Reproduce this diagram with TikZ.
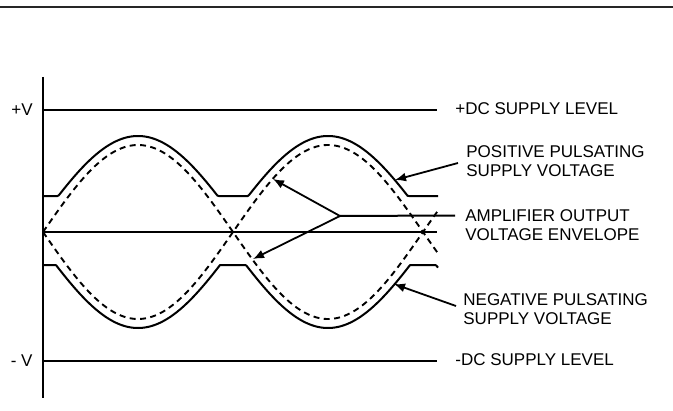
\documentclass[tikz,border=0pt]{standalone}
\usepackage{fontspec}
\setmainfont{Liberation Sans}
\usetikzlibrary{calc,backgrounds,arrows.meta}

\begin{document}
\begin{tikzpicture}[%
        x=0.5pt, y=-0.5pt,%
        show background rectangle,%
        tight background,%
        background rectangle/.style={fill=white}%
    ]
        \tikzset{%
            trace/.style={line width=1pt, line join=round},%
            envelope/.style={line width=0.95pt, dash pattern=on 3pt off 2.2pt},%
            tag/.style={font=\fontsize{8.5}{9.75}\selectfont, inner sep=1pt, align=left, anchor=west},%
            callout/.style={line width=0.9pt, -{Latex[length=5.5pt, width=4.5pt]}}%
        }%
        \useasboundingbox (0,0) rectangle (673,411);%

        % Top rule
        \draw[line width=1.1pt, black!85] (0,7) -- (673,7);%

        %
        % Axes
        %
        \draw[trace] (43,77) -- (43,398);%
        \draw[trace] (43,232) -- (437,232);%

        % Supply levels
        \foreach \lv/\y/\v/\t in {plus/110/+V/+DC SUPPLY LEVEL,minus/361/- V/-DC SUPPLY LEVEL} {%
            \draw[trace] (43,\y) -- (437,\y);%
            \node[tag, anchor=east] (\lv\space v) at (35,\y) {\v};%
            \node[tag] (\lv\space dc) at (453,\y-1) {\t};%
        }%

        %
        % Pulsating supplies
        %
        \draw[trace] plot[domain=43:438, samples=300] (\x, {232-max(36, 80*abs(sin((\x-43)/190*180))+16)});%
        \draw[trace] plot[domain=43:438, samples=300] (\x, {232+max(33, 80*abs(sin((\x-43)/190*180))+16)});%

        % Output envelope
        \draw[envelope] plot[domain=43:438, samples=200] (\x, {232-87*sin((\x-43)/190*180)});%
        \draw[envelope] plot[domain=43:438, samples=200] (\x, {232+87*sin((\x-43)/190*180)});%

        %
        % Annotations
        %
        \node[tag] (pos label) at (464,161) {POSITIVE PULSATING\\SUPPLY VOLTAGE};%
        \node[tag] (amp label) at (463,225) {AMPLIFIER OUTPUT\\VOLTAGE ENVELOPE};%
        \node[tag] (neg label) at (461,309) {NEGATIVE PULSATING\\SUPPLY VOLTAGE};%

        \coordinate (pos tip) at (395,180);%
        \coordinate (neg tip) at (394,284);%
        \coordinate (amp hub) at (340,216);%
        \coordinate (amp up tip) at (273,179);%
        \coordinate (amp down tip) at (253,259);%

        % Positive supply
        \draw[callout] ([xshift=-3pt, yshift=-1pt]pos label.west) -- (pos tip);%

        % Envelope
        \draw[trace] ([xshift=-4pt, yshift=4.75pt]amp label.west) -- (amp hub);%
        \draw[callout] (amp hub) -- (amp up tip);%
        \draw[callout] (amp hub) -- (amp down tip);%

        % Negative supply
        \draw[callout] ([xshift=-2.5pt, yshift=1.5pt]neg label.west) -- (neg tip);%
    \end{tikzpicture}
\end{document}
